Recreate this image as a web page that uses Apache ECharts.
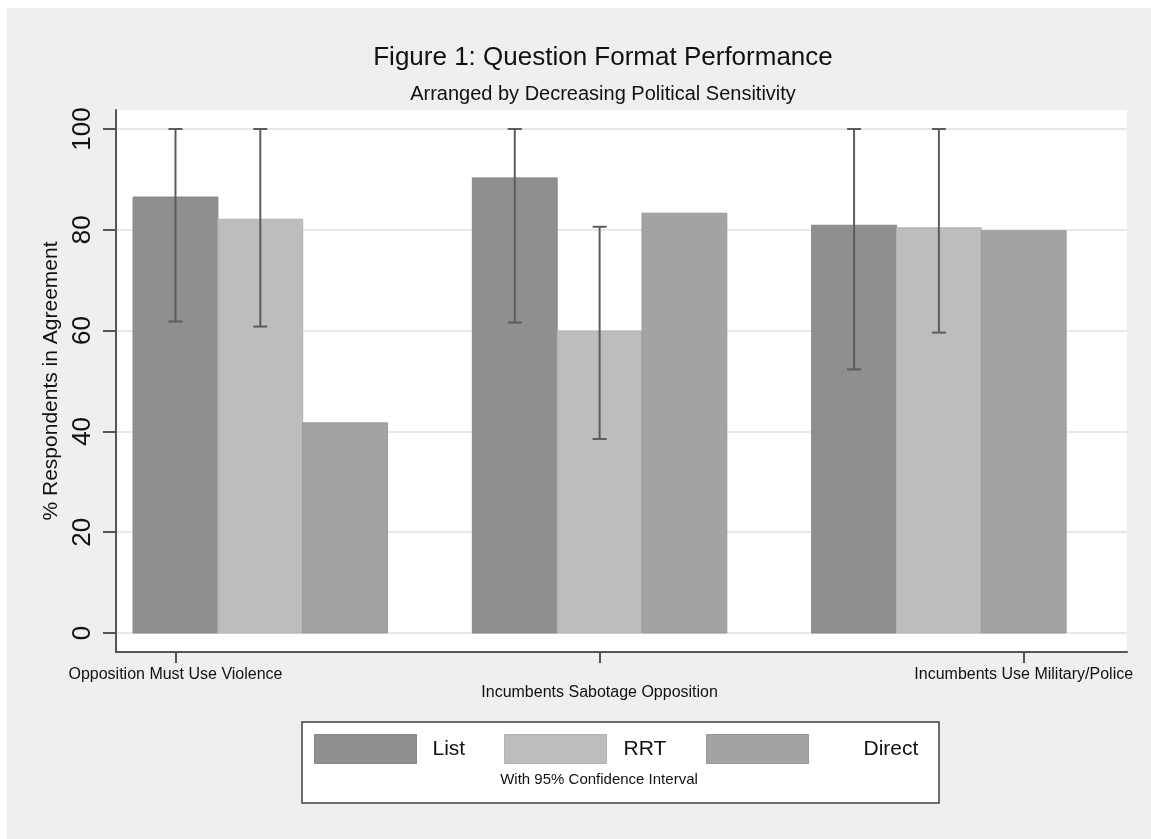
<!DOCTYPE html>
<html><head><meta charset="utf-8">
<script src="https://cdn.jsdelivr.net/npm/echarts@6/dist/echarts.min.js"></script>
<style>
html,body{margin:0;padding:0;background:#fff;}
#bg{position:absolute;left:7px;top:8px;width:1144px;height:831px;background:#efefef;}
#chart{position:absolute;left:0;top:0;width:1151px;height:839px;}
</style></head><body>
<div id="bg"></div><div id="chart"></div>
<script>
// ---- data ----
const categories = ['Opposition Must Use Violence', 'Incumbents Sabotage Opposition', 'Incumbents Use Military/Police'];
const seriesNames = ['List', 'RRT', 'Direct'];
const listValues = [86.5, 90.3, 80.9];
const rrtValues = [82.1, 59.9, 80.4];
const directValues = [41.7, 83.3, 79.8];
const listLower = [61.8, 61.6, 52.3];
const listUpper = [100, 100, 100];
const rrtLower = [60.8, 38.5, 59.6];
const rrtUpper = [100, 80.6, 100];
const yTicks = [0, 20, 40, 60, 80, 100];

// ---- styling / layout ----
const FONT = "'Liberation Sans', Arial, Helvetica, sans-serif";
const BAR_W = 0.25;
const X_MIN = -0.4253, X_MAX = 2.5544;
const fills = ['#8f8f8f', '#bdbdbd', '#a3a3a3'];
const strokes = ['#868686', '#b2b2b2', '#999999'];
const offsets = [-BAR_W, 0, BAR_W];
const AXIS_COLOR = '#555555';

function barRender(k) {
  return function (params, api) {
    const x = api.value(0) + offsets[k];
    const p0 = api.coord([x - BAR_W / 2, api.value(1)]);
    const p1 = api.coord([x + BAR_W / 2, 0]);
    return {
      type: 'rect',
      shape: { x: p0[0], y: p0[1], width: p1[0] - p0[0], height: p1[1] - p0[1] },
      style: { fill: fills[k], stroke: strokes[k], lineWidth: 1 }
    };
  };
}
function errRender(k) {
  return function (params, api) {
    const x = api.value(0) + offsets[k];
    const lo = api.coord([x, api.value(1)]);
    const hi = api.coord([x, api.value(2)]);
    const cap = 7;
    const st = { stroke: '#5c5c5c', lineWidth: 2 };
    return {
      type: 'group',
      children: [
        { type: 'line', shape: { x1: lo[0], y1: lo[1], x2: hi[0], y2: hi[1] }, style: st },
        { type: 'line', shape: { x1: lo[0] - cap, y1: lo[1], x2: lo[0] + cap, y2: lo[1] }, style: st },
        { type: 'line', shape: { x1: hi[0] - cap, y1: hi[1], x2: hi[0] + cap, y2: hi[1] }, style: st }
      ]
    };
  };
}

const valueSets = [listValues, rrtValues, directValues];
const barSeries = seriesNames.map((n, k) => ({
  name: n, type: 'custom', xAxisIndex: 1, yAxisIndex: 1, z: 3,
  renderItem: barRender(k),
  itemStyle: { color: fills[k], borderColor: strokes[k], borderWidth: 1 },
  encode: { x: 0, y: 1 },
  data: valueSets[k].map((v, i) => [i, v])
}));
const errSeries = [
  { name: 'List CI', k: 0, lo: listLower, hi: listUpper },
  { name: 'RRT CI', k: 1, lo: rrtLower, hi: rrtUpper }
].map(e => ({
  name: e.name, type: 'custom', xAxisIndex: 1, yAxisIndex: 1, z: 5,
  renderItem: errRender(e.k),
  encode: { x: 0, y: [1, 2] },
  data: e.lo.map((v, i) => [i, v, e.hi[i]])
}));

const tickPos = categories.map((c, i) => i + (i - 1) * BAR_W);

const legendBase = (k, left, gap) => ({
  data: [{ name: seriesNames[k], icon: 'rect', itemStyle: { color: fills[k], borderColor: strokes[k], borderWidth: 1 } }],
  left: left, top: 734, padding: 0,
  itemWidth: 102, itemHeight: 29,
  selectedMode: false,
  textStyle: { fontFamily: FONT, fontSize: 21, color: '#111', padding: [4, 0, 0, gap] }
});

const chart = echarts.init(document.getElementById('chart'));
chart.setOption({
  backgroundColor: 'transparent',
  animation: false,
  title: [
    { text: 'Figure 1: Question Format Performance', left: 603, top: 45, textAlign: 'center', padding: 0,
      textStyle: { fontFamily: FONT, fontSize: 26, fontWeight: 'normal', color: '#111' } },
    { text: 'Arranged by Decreasing Political Sensitivity', left: 603, top: 84, textAlign: 'center', padding: 0,
      textStyle: { fontFamily: FONT, fontSize: 20, fontWeight: 'normal', color: '#111' } },
    { text: 'With 95% Confidence Interval', left: 599, top: 772, textAlign: 'center', padding: 0,
      textStyle: { fontFamily: FONT, fontSize: 15, fontWeight: 'normal', color: '#111' } }
  ],
  graphic: [
    { type: 'rect', z: 1, shape: { x: 302, y: 722, width: 637, height: 81 },
      style: { fill: '#ffffff', stroke: '#404040', lineWidth: 1.5 } }
  ],
  legend: [legendBase(0, 314, 11), legendBase(1, 504, 12), legendBase(2, 706, 50)],
  grid: [
    { left: 116, right: 24, top: 110, bottom: 187, show: true, backgroundColor: '#ffffff', borderWidth: 0 },
    { left: 116, right: 24, top: 129, bottom: 206 }
  ],
  xAxis: [
    { type: 'value', gridIndex: 0, min: X_MIN, max: X_MAX,
      axisLine: { show: true, onZero: false, lineStyle: { color: AXIS_COLOR, width: 2 } },
      axisTick: { show: true, customValues: tickPos, length: 11, lineStyle: { color: AXIS_COLOR, width: 2 } },
      axisLabel: { show: true, customValues: tickPos, margin: 14, fontFamily: FONT, fontSize: 16, color: '#111', lineHeight: 18,
        formatter: function (v) { const i = Math.round(v); return i === 1 ? '\n' + categories[i] : categories[i]; } },
      splitLine: { show: false } },
    { type: 'value', gridIndex: 1, min: X_MIN, max: X_MAX, show: false }
  ],
  yAxis: [
    { type: 'value', gridIndex: 0, min: 0, max: 1,
      axisLine: { show: true, onZero: false, lineStyle: { color: AXIS_COLOR, width: 2 } },
      axisTick: { show: false }, axisLabel: { show: false }, splitLine: { show: false } },
    { type: 'value', gridIndex: 1, min: yTicks[0], max: yTicks[yTicks.length - 1], interval: 20,
      name: '% Respondents in Agreement', nameLocation: 'middle', nameGap: 43,
      nameTextStyle: { fontFamily: FONT, fontSize: 21, color: '#111' },
      axisLine: { show: false, onZero: false },
      axisTick: { show: true, length: 13, lineStyle: { color: AXIS_COLOR, width: 2 } },
      axisLabel: { rotate: 90, margin: 20, fontFamily: FONT, fontSize: 26, color: '#111' },
      splitLine: { show: true, lineStyle: { color: '#e8e8e8', width: 2 } } }
  ],
  series: barSeries.concat(errSeries)
});
</script>
</body></html>
